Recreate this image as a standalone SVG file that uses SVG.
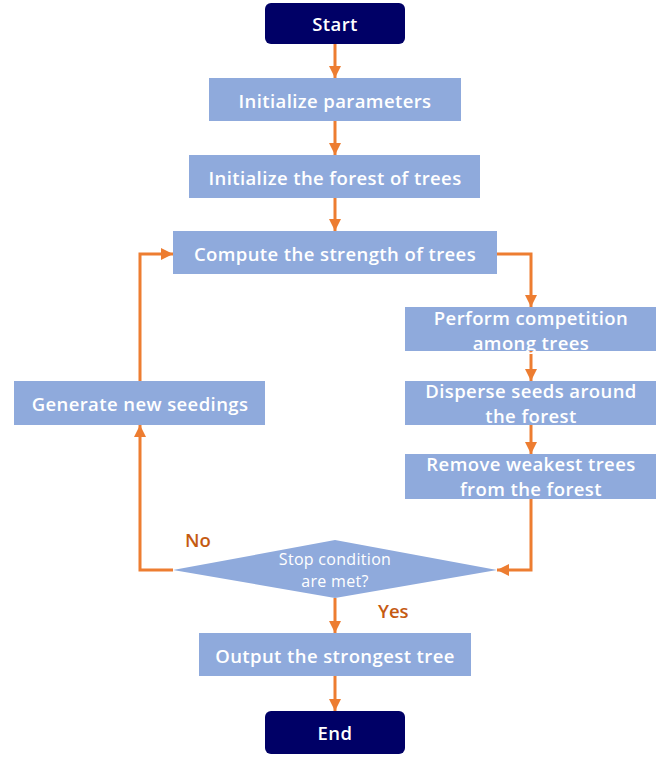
<svg xmlns="http://www.w3.org/2000/svg" width="672" height="760" viewBox="0 0 672 760">
<defs>
<style>
.term{fill:#000066;}
.box{fill:#8FAADC;}
.t{font-family:"Open Sans","Noto Sans","Liberation Sans",sans-serif;font-size:18.5px;font-weight:600;letter-spacing:0.4px;fill:#FFFFFF;text-anchor:middle;}
.ts{font-family:"Open Sans","Noto Sans","Liberation Sans",sans-serif;font-size:16px;letter-spacing:0.3px;fill:#FFFFFF;text-anchor:middle;}
.lbl{font-family:"Open Sans","Noto Sans","Liberation Sans",sans-serif;font-size:18.5px;font-weight:600;fill:#C55A11;}
.c{fill:none;stroke:#ED7D31;stroke-width:3;}
</style>
<marker id="ah" viewBox="0 0 10 10" refX="10" refY="5" markerWidth="4" markerHeight="4" orient="auto" markerUnits="strokeWidth">
<path d="M0,0 L10,5 L0,10 z" fill="#ED7D31"/>
</marker>
</defs>
<g id="connectors">
<path class="c" d="M335,44 V78" marker-end="url(#ah)"/>
<path class="c" d="M335,121 V155" marker-end="url(#ah)"/>
<path class="c" d="M335,198 V231" marker-end="url(#ah)"/>
<path class="c" d="M497,254 H531 V307" marker-end="url(#ah)"/>
<path class="c" d="M531,351 V381" marker-end="url(#ah)"/>
<path class="c" d="M531,425 V454" marker-end="url(#ah)"/>
<path class="c" d="M531,499 V570 H497" marker-end="url(#ah)"/>
<path class="c" d="M173,570 H140 V425" marker-end="url(#ah)"/>
<path class="c" d="M140,381 V254 H173" marker-end="url(#ah)"/>
<path class="c" d="M335,598 V633" marker-end="url(#ah)"/>
<path class="c" d="M335,676 V711" marker-end="url(#ah)"/>
</g>
<g id="start"><rect class="term" x="265" y="3" width="140" height="41" rx="6"/><text class="t" x="335" y="31">Start</text></g>
<g id="init-params"><rect class="box" x="209" y="78" width="252" height="43"/><text class="t" x="335" y="108">Initialize parameters</text></g>
<g id="init-forest"><rect class="box" x="189" y="155" width="291" height="43"/><text class="t" x="335" y="185">Initialize the forest of trees</text></g>
<g id="compute"><rect class="box" x="173" y="231" width="324" height="43"/><text class="t" x="335" y="261">Compute the strength of trees</text></g>
<g id="competition"><rect class="box" x="405" y="307" width="251" height="44"/><text class="t" x="531" y="325">Perform competition</text><text class="t" x="531" y="350">among trees</text></g>
<g id="disperse"><rect class="box" x="405" y="381" width="251" height="44"/><text class="t" x="531" y="398">Disperse seeds around</text><text class="t" x="531" y="423">the forest</text></g>
<g id="remove"><rect class="box" x="405" y="454" width="251" height="45"/><text class="t" x="531" y="471">Remove weakest trees</text><text class="t" x="531" y="496">from the forest</text></g>
<g id="generate"><rect class="box" x="14" y="381" width="251" height="44"/><text class="t" x="140" y="411">Generate new seedings</text></g>
<g id="decision"><polygon class="box" points="335,540 497,570 335,598 173,570"/><text class="ts" x="335" y="565">Stop condition</text><text class="ts" x="335" y="587">are met?</text></g>
<g id="output"><rect class="box" x="199" y="633" width="272" height="43"/><text class="t" x="335" y="663">Output the strongest tree</text></g>
<g id="end"><rect class="term" x="265" y="711" width="140" height="43" rx="6"/><text class="t" x="335" y="740">End</text></g>
<text class="lbl" x="185" y="547">No</text>
<text class="lbl" x="378" y="618">Yes</text>
</svg>
